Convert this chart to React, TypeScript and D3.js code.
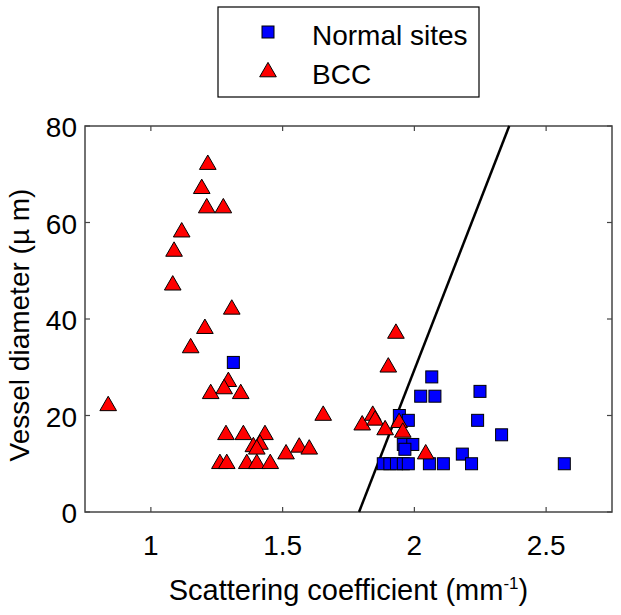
import React from "react";
import * as d3 from "d3";

const normalX = [1.313, 2.066, 2.024, 2.078, 2.249, 2.24, 2.331, 2.182, 2.217, 2.569, 2.057, 2.11, 1.882, 1.907, 1.932, 1.958, 1.977, 1.943, 1.977, 1.958, 1.994, 1.964];
const normalY = [31, 28, 24, 24, 25, 19, 16, 12, 10, 10, 10, 10, 10, 10, 10, 10, 10, 20, 19, 14, 14, 13];

const bccX = [1.216, 1.193, 1.212, 1.275, 1.117, 1.088, 1.083, 1.307, 1.205, 1.151, 1.294, 1.278, 1.227, 1.341, 0.838, 1.654, 1.285, 1.351, 1.433, 1.389, 1.414, 1.402, 1.513, 1.563, 1.601, 1.262, 1.288, 1.364, 1.402, 1.453, 1.802, 1.842, 1.851, 1.889, 1.942, 1.956, 2.043, 1.93, 1.901];
const bccY = [72, 67, 63, 63, 58, 54, 47, 42, 38, 34, 27, 25.5, 24.5, 24.5, 22, 20, 16, 16, 16, 13.5, 14, 13, 12, 13.4, 13, 10, 10, 10, 10, 10, 18, 20, 19, 17, 18.5, 16.5, 12, 37, 30];

const lineX = [1.79, 2.36];
const lineY = [0, 80];

const xTicks = [1, 1.5, 2, 2.5];
const xTickLabels = ["1", "1.5", "2", "2.5"];
const yTicks = [0, 20, 40, 60, 80];
const legendLabels = ["Normal sites", "BCC"];

const FONT = "'Liberation Sans', Arial, sans-serif";

export default function App() {
  const left = 85, right = 612, top = 126, bottom = 512;
  const x = d3.scaleLinear().domain([0.75, 2.75]).range([left, right]);
  const y = d3.scaleLinear().domain([0, 80]).range([bottom, top]);
  const tri = d3.symbol().type(d3.symbolTriangle).size(120)();
  const sq = 12;
  const axisColor = "#444";
  const tickLen = 5;
  const lineGen = d3.line<number>().x((d, i) => x(lineX[i])).y((d, i) => y(lineY[i]));

  return (
    <svg width={621} height={615} style={{ position: "absolute", left: 0, top: 0, background: "#fff" }} fontFamily={FONT}>
      <rect x={0} y={0} width={621} height={615} fill="#fff" />
      <rect x={left} y={top} width={right - left} height={bottom - top} fill="none" stroke={axisColor} strokeWidth={1.5} />
      {xTicks.map((t, i) => (
        <g key={"xt" + i}>
          <line x1={x(t)} x2={x(t)} y1={bottom} y2={bottom - tickLen} stroke={axisColor} strokeWidth={1.2} />
          <line x1={x(t)} x2={x(t)} y1={top} y2={top + tickLen} stroke={axisColor} strokeWidth={1.2} />
          <text x={x(t)} y={555} textAnchor="middle" fontSize={28} fill="#000">{xTickLabels[i]}</text>
        </g>
      ))}
      {yTicks.map((t, i) => (
        <g key={"yt" + i}>
          <line x1={left} x2={left + tickLen} y1={y(t)} y2={y(t)} stroke={axisColor} strokeWidth={1.2} />
          <line x1={right} x2={right - tickLen} y1={y(t)} y2={y(t)} stroke={axisColor} strokeWidth={1.2} />
          <text x={77} y={y(t) + 11} textAnchor="end" fontSize={28} fill="#000">{t}</text>
        </g>
      ))}
      <text x={(left + right) / 2} y={600} textAnchor="middle" fontSize={29} fill="#000">
        Scattering coefficient (mm<tspan dy={-11} fontSize={17}>-1</tspan><tspan dy={11}>)</tspan>
      </text>
      <text transform={`translate(29, ${(top + bottom) / 2 + 6}) rotate(-90)`} textAnchor="middle" fontSize={28} fill="#000">
        Vessel diameter (µ m)
      </text>
      <path d={lineGen(lineX) || ""} stroke="#000" strokeWidth={2.5} fill="none" />
      {normalX.map((v, i) => (
        <rect key={"n" + i} x={x(v) - sq / 2} y={y(normalY[i]) - sq / 2} width={sq} height={sq} fill="#0000ff" stroke="#000" strokeWidth={1} />
      ))}
      {bccX.map((v, i) => (
        <path key={"b" + i} d={tri || ""} transform={`translate(${x(v)}, ${y(bccY[i])})`} fill="#ff0000" stroke="#000" strokeWidth={1} />
      ))}
      <rect x={218} y={7} width={261} height={90} fill="#fff" stroke="#000" strokeWidth={1.2} />
      <rect x={268 - sq / 2} y={32 - sq / 2} width={sq} height={sq} fill="#0000ff" stroke="#000" strokeWidth={1} />
      <path d={tri || ""} transform="translate(268, 72)" fill="#ff0000" stroke="#000" strokeWidth={1} />
      <text x={312} y={45} fontSize={28} fill="#000">{legendLabels[0]}</text>
      <text x={312} y={84} fontSize={28} fill="#000">{legendLabels[1]}</text>
    </svg>
  );
}
